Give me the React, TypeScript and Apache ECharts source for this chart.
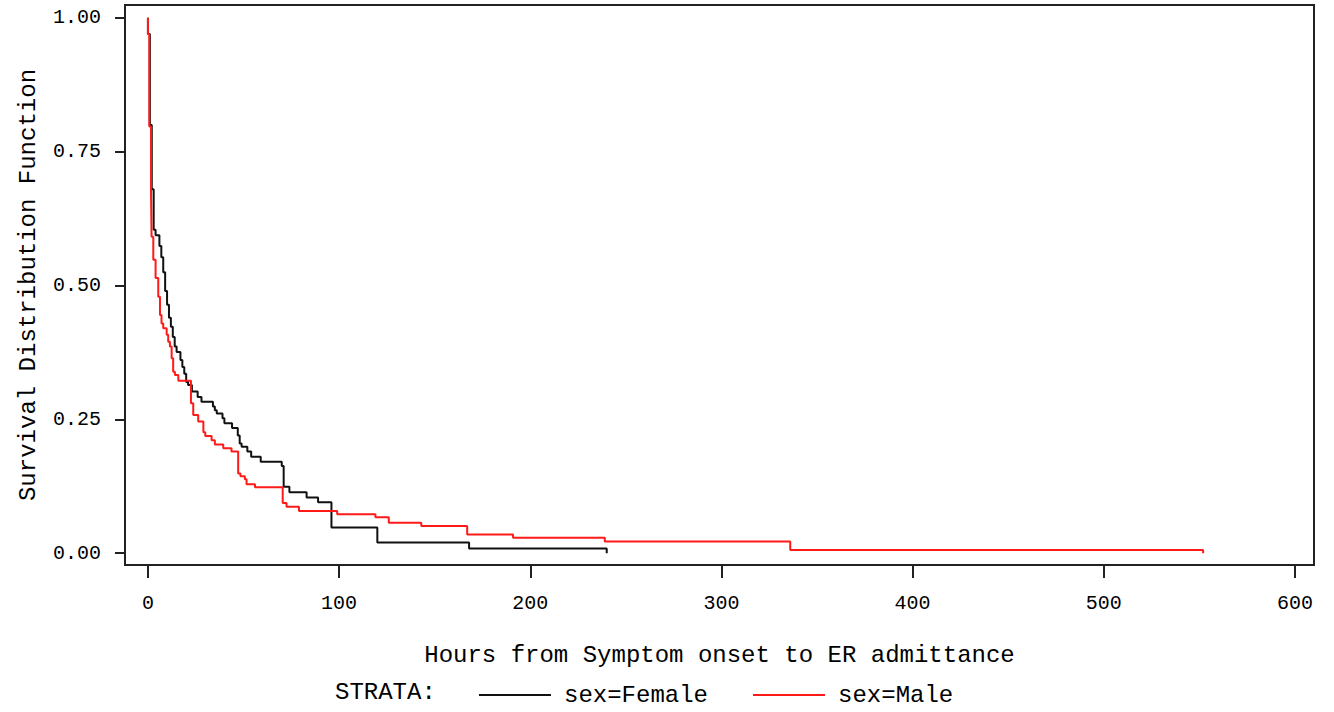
import React, { useEffect, useRef } from "react";
import * as echarts from "echarts";

// Kaplan-Meier estimates: [hours, survival after that time]
const femaleSurvival: [number, number][] = [
  [0, 1.0], [0, 0.97], [1, 0.8], [2, 0.68], [3, 0.604], [4, 0.594], [6, 0.574],
  [7, 0.553], [8, 0.525], [9, 0.49], [10, 0.464], [11, 0.44], [12, 0.423],
  [13, 0.404], [14, 0.386], [15, 0.376], [17, 0.361], [18, 0.348], [19, 0.335],
  [20, 0.32], [21, 0.314], [23, 0.302], [26, 0.292], [28, 0.283], [34, 0.274],
  [35, 0.267], [36, 0.261], [39, 0.252], [40, 0.243], [44, 0.234], [47, 0.22],
  [48, 0.205], [49, 0.199], [52, 0.19], [54, 0.18], [59, 0.171], [70, 0.163],
  [71, 0.124], [74, 0.114], [83, 0.104], [89, 0.095], [96, 0.048], [120, 0.02],
  [168, 0.009], [240, 0.0],
];

const maleSurvival: [number, number][] = [
  [0, 1.0], [0, 0.97], [0.7, 0.797], [1.6, 0.678], [1.9, 0.591], [2.8, 0.548],
  [4, 0.514], [5.4, 0.479], [6.3, 0.445], [7.1, 0.429], [8, 0.42], [9.8, 0.408],
  [10.6, 0.395], [11.5, 0.386], [12.4, 0.364], [13.2, 0.339], [14.1, 0.333],
  [15.9, 0.322], [22.5, 0.28], [23.7, 0.258], [26.3, 0.246], [29, 0.226],
  [30, 0.219], [33.3, 0.211], [35, 0.203], [39.4, 0.196], [43.7, 0.19],
  [47.2, 0.149], [48.4, 0.144], [50.7, 0.138], [51.6, 0.129], [56, 0.123],
  [70.5, 0.094], [72.5, 0.087], [79, 0.079], [99, 0.073], [119, 0.067],
  [126, 0.057], [143, 0.051], [167, 0.035], [191, 0.029], [239, 0.022],
  [336, 0.006], [552, 0.0],
];

const xTicks = [0, 100, 200, 300, 400, 500, 600];
const yTicks = [0, 0.25, 0.5, 0.75, 1.0];

const FONT = "Liberation Mono";

export default function App() {
  const ref = useRef<HTMLDivElement>(null);

  useEffect(() => {
    if (!ref.current) return;
    const chart = echarts.init(ref.current, undefined, { renderer: "svg" });
    chart.setOption({
      animation: false,
      backgroundColor: "#ffffff",
      textStyle: { fontFamily: FONT, color: "#000" },
      grid: {
        left: 125,
        right: 20,
        top: 5,
        bottom: 147,
        show: true,
        borderColor: "#222",
        borderWidth: 2,
        backgroundColor: "transparent",
      },
      xAxis: {
        type: "value",
        min: -12,
        max: 610,
        name: "Hours from Symptom onset to ER admittance",
        nameLocation: "middle",
        nameGap: 78,
        nameTextStyle: { fontFamily: FONT, fontSize: 24, color: "#000" },
        axisLine: { show: true, onZero: false, lineStyle: { color: "#222", width: 2 } },
        axisTick: { show: true, length: 13, customValues: xTicks, lineStyle: { color: "#222", width: 2 } },
        axisLabel: {
          customValues: xTicks,
          margin: 28,
          fontFamily: FONT,
          fontSize: 20,
          color: "#000",
        },
        splitLine: { show: false },
      },
      yAxis: {
        type: "value",
        min: -0.022,
        max: 1.024,
        name: "Survival Distribution Function",
        nameLocation: "middle",
        nameGap: 85,
        nameTextStyle: { fontFamily: FONT, fontSize: 24, color: "#000" },
        axisLine: { show: true, onZero: false, lineStyle: { color: "#222", width: 2 } },
        axisTick: { show: true, length: 10, customValues: yTicks, lineStyle: { color: "#222", width: 2 } },
        axisLabel: {
          customValues: yTicks,
          margin: 24,
          fontFamily: FONT,
          fontSize: 20,
          color: "#000",
          formatter: (v: number) => v.toFixed(2),
        },
        splitLine: { show: false },
      },
      legend: {
        left: 474,
        top: 678,
        icon: "rect",
        itemWidth: 72,
        itemHeight: 2,
        itemGap: 45,
        textStyle: { fontFamily: FONT, fontSize: 24, color: "#000", padding: [0, 0, 0, 8] },
        data: ["sex=Female", "sex=Male"],
      },
      graphic: [
        {
          type: "text",
          left: 335,
          top: 680,
          style: { text: "STRATA:", fontFamily: FONT, fontSize: 24, fill: "#000" },
        },
      ],
      series: [
        {
          name: "sex=Female",
          type: "line",
          step: "end",
          data: femaleSurvival,
          showSymbol: false,
          color: "#111111",
          lineStyle: { color: "#111111", width: 2 },
          z: 2,
        },
        {
          name: "sex=Male",
          type: "line",
          step: "end",
          data: maleSurvival,
          showSymbol: false,
          color: "#ff1a1a",
          lineStyle: { color: "#ff1a1a", width: 2 },
          z: 3,
        },
      ],
    });
    return () => chart.dispose();
  }, []);

  return (
    <div
      ref={ref}
      style={{ position: "absolute", left: 0, top: 0, width: 1334, height: 712 }}
    />
  );
}
